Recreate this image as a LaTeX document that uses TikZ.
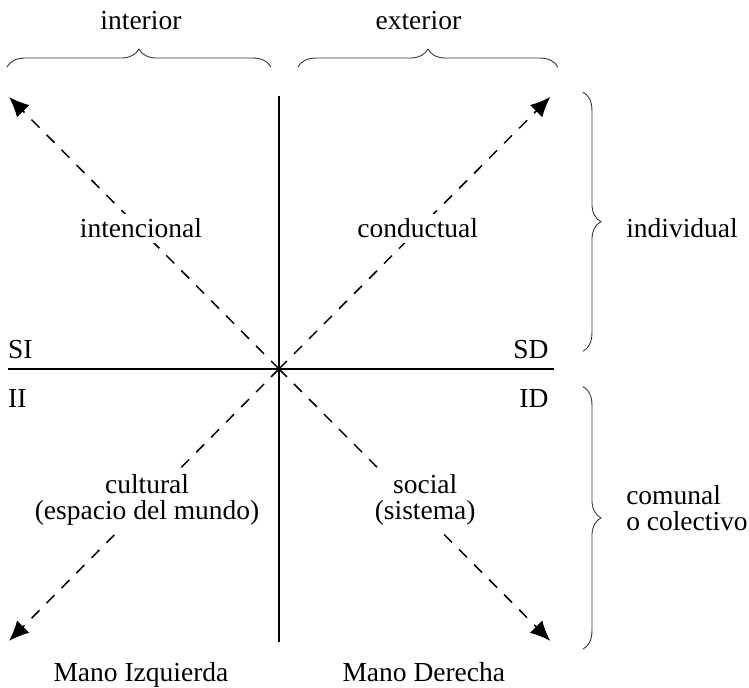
\documentclass[tikz,border=0pt]{standalone}
\usepackage{fontspec}
\setmainfont{Liberation Serif}
\usetikzlibrary{arrows.meta}
\usetikzlibrary{decorations.pathreplacing}

\begin{document}
\begin{tikzpicture}[x=27.2pt, y=27.2pt,
        lbl/.style = {inner sep=0pt, font=\fontsize{11}{10.4}\selectfont},
        quad/.style = {lbl, fill=white, inner sep=2pt, align=center},
        axis/.style = {line width=0.8pt},
        diag/.style = {line width=0.6pt, dash pattern=on 4.5pt off 4pt,
            -{Latex[length=8pt, width=7pt]}},
        brc/.style = {line width=0.35pt, black!80, decorate,
            decoration={brace, amplitude=7.2pt}}]
        \useasboundingbox (-4.103, -4.691) rectangle (6.912, 5.426);

        \coordinate (O) at (0, 0);
        \coordinate (N) at (0, 4.01);
        \coordinate (S) at (0, -4.01);
        \coordinate (W) at (-3.99, 0);
        \coordinate (E) at (4.04, 0);
        \coordinate (NW) at (-3.97, 4);
        \coordinate (NE) at (3.99, 4);
        \coordinate (SW) at (-3.97, -4);
        \coordinate (SE) at (3.99, -4);

        % ejes
        \draw[axis] (N) -- (S);
        \draw[axis] (W) -- (E);

        % cuadrantes
        \draw[diag] (O) -- (NW);
        \draw[diag] (O) -- (NE);
        \draw[diag] (O) -- (SW);
        \draw[diag] (O) -- (SE);

        % llaves
        \coordinate (TLa) at (-4, 4.44);
        \coordinate (TLb) at (-0.12, 4.44);
        \coordinate (TRa) at (0.28, 4.44);
        \coordinate (TRb) at (4.1, 4.44);
        \coordinate (RUa) at (4.47, 4.07);
        \coordinate (RUb) at (4.47, 0.26);
        \coordinate (RLa) at (4.47, -0.26);
        \coordinate (RLb) at (4.47, -4.12);
        \draw[brc] (TLa) -- (TLb);
        \draw[brc] (TRa) -- (TRb);
        \draw[brc] (RUa) -- (RUb);
        \draw[brc] (RLa) -- (RLb);

        \node[lbl] (interior) at (-2.03, 5.13) {interior};
        \node[lbl] (exterior) at (2.05, 5.13) {exterior};
        \node[lbl, anchor=west] (individual) at (5.10, 2.07) {individual};
        \node[lbl, anchor=west, align=left] (comunal) at (5.10, -2.04)
            {comunal\\o colectivo};

        \node[lbl, anchor=west] (SI) at (-3.99, 0.29) {SI};
        \node[lbl, anchor=west] (II) at (-3.99, -0.43) {II};
        \node[lbl, anchor=east] (SD) at (3.97, 0.29) {SD};
        \node[lbl, anchor=east] (ID) at (3.97, -0.43) {ID};

        \node[quad] (intencional) at (-2.03, 2.07) {intencional};
        \node[quad] (conductual) at (2.04, 2.07) {conductual};
        \node[quad] (cultural) at (-1.94, -1.93) {cultural\\(espacio del mundo)};
        \node[quad] (social) at (2.15, -1.93) {social\\(sistema)};

        \node[lbl, anchor=base] (izquierda) at (-2.03, -4.6) {Mano Izquierda};
        \node[lbl, anchor=base] (derecha) at (2.13, -4.6) {Mano Derecha};
    \end{tikzpicture}
\end{document}
